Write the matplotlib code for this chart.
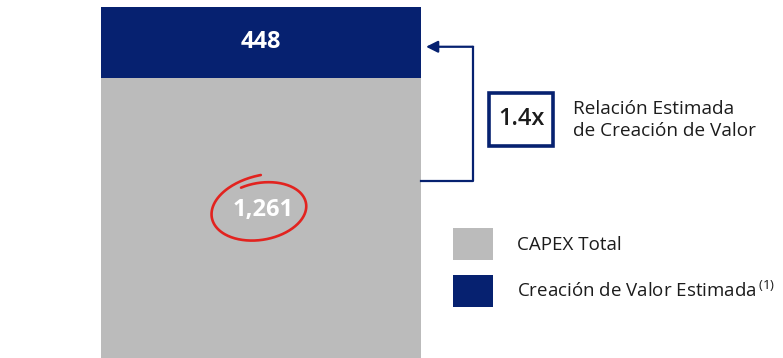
import numpy as np
import matplotlib.pyplot as plt
from matplotlib.patches import Rectangle

# data
categories = ['Total']
capex_total = [1261]
valor_estimado = [448]
ratio_label = '1.4x'
legend_labels = ['CAPEX Total', 'Creación de Valor Estimada$^{\\,(1)}$']

GRAY = '#bbbbbb'
NAVY = '#062170'
RED = '#e2231f'
TEXT = '#1c1c1c'

plt.rcParams['font.family'] = ['Open Sans', 'DejaVu Sans']
plt.rcParams['mathtext.default'] = 'regular'

W, H = 783, 358
fig = plt.figure(figsize=(W / 100, H / 100), dpi=100)
ax = fig.add_axes([0, 0, 1, 1])

# infographic is not to scale: the grey block is stretched relative to the navy one
base = capex_total[0]
top = valor_estimado[0]
gray_px, navy_px = 280.0, 71.0


def fwd(v):
    v = np.asarray(v, dtype=float)
    return np.where(v <= base, v * gray_px / base, gray_px + (v - base) * navy_px / top)


def inv(p):
    p = np.asarray(p, dtype=float)
    return np.where(p <= gray_px, p * base / gray_px, base + (p - gray_px) * top / navy_px)


ax.set_yscale('function', functions=(fwd, inv))
ax.set_ylim(0, float(inv(H)))
x0 = -0.5 - 101 / 320
ax.set_xlim(x0, x0 + W / 320)
ax.axis('off')

x = np.arange(len(categories))
b1 = ax.bar(x, capex_total, width=1.0, color=GRAY, linewidth=0)
b2 = ax.bar(x, valor_estimado, width=1.0, bottom=capex_total, color=NAVY, linewidth=0)

# value labels
ax.text(x[0], capex_total[0] + valor_estimado[0] / 2, f'{valor_estimado[0]:,}',
        ha='center', va='center', color='white', fontsize=17, fontweight='bold')
lab_y = capex_total[0] * 0.53
ax.text(x[0] + 2 / 320, lab_y, f'{capex_total[0]:,}', ha='center', va='center',
        color='white', fontsize=17, fontweight='bold')

# red hand-drawn ring around 1,261 (figure pixels), drawn clockwise with an overshoot
t = np.linspace(np.radians(470), np.radians(84), 300)
s = np.linspace(0, 1, t.size)
grow = 0.97 + 0.26 * s ** 4
rx, ry, rot = 47 * grow, 29 * grow, np.radians(10)
cx, cy = 261, H - 211
ex = rx * np.cos(t)
ey = ry * np.sin(t)
px = cx + ex * np.cos(rot) - ey * np.sin(rot)
py = cy + ex * np.sin(rot) + ey * np.cos(rot)
fig.add_artist(plt.Line2D(px / W, py / H, color=RED, lw=1.9,
                          solid_capstyle='round', transform=fig.transFigure))

# bracket arrow from grey block to navy block
xr = 0.5 + 52 / 320
y_low = 795
y_arrow = capex_total[0] + valor_estimado[0] * 0.44
ax.plot([0.5, xr, xr], [y_low, y_low, y_arrow], color=NAVY, lw=1.6)
ax.annotate('', xy=(0.5 + 5 / 320, y_arrow), xytext=(xr, y_arrow),
            arrowprops=dict(arrowstyle='-|>,head_length=0.7,head_width=0.35',
                            color=NAVY, lw=1.6, shrinkA=0, shrinkB=0))

# ratio box
fig.add_artist(Rectangle((488.5 / W, 1 - 145.5 / H), 64 / W, 53 / H, fill=False,
                         edgecolor=NAVY, lw=2.6, transform=fig.transFigure))
fig.text(521 / W, 1 - 119 / H, ratio_label, ha='center', va='center',
         color=TEXT, fontsize=17, fontweight='semibold')
fig.text(573 / W, 1 - 120 / H, 'Relación Estimada\nde Creación de Valor',
         ha='left', va='center', color=TEXT, fontsize=13.7, linespacing=1.35)

# legend
fs = 13.5
fpx = fs * 100 / 72
fig.legend([b1, b2], legend_labels, loc='upper left',
           bbox_to_anchor=(453 / W, 1 - 228 / H), frameon=False,
           fontsize=fs, handlelength=40 / fpx, handleheight=2.28,
           handletextpad=24 / fpx, labelspacing=0.78, borderpad=0,
           borderaxespad=0, labelcolor=TEXT)

fig.savefig('out.png', dpi=100)
